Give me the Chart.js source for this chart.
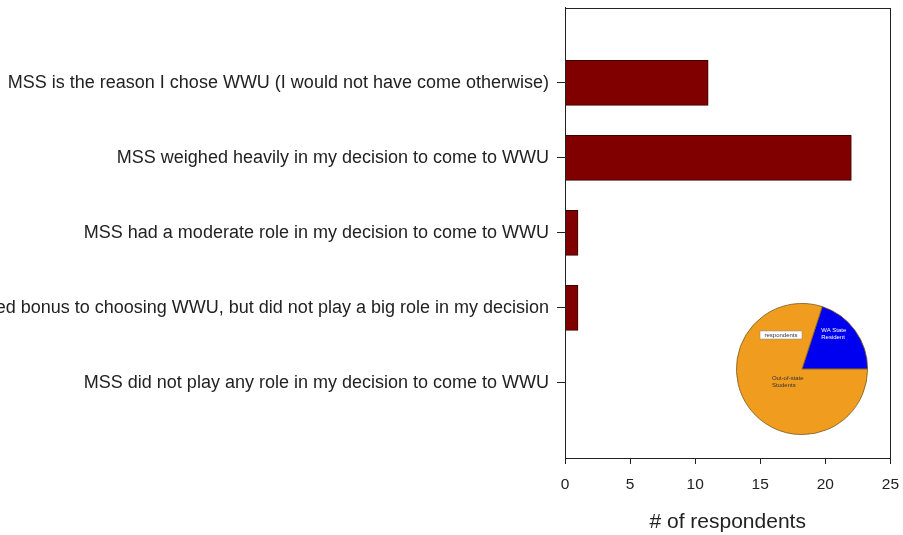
<!DOCTYPE html>
<html lang="en">
<head>
  <meta charset="UTF-8" />
  <title>MSS and the decision to come to WWU</title>
  <script src="https://cdn.jsdelivr.net/npm/chart.js"></script>
  <style>
    body { margin: 0; background: white; overflow: hidden; }
    #wrap { position: relative; width: 903px; height: 535px; overflow: hidden; }
    #barChart { position: absolute; left: 0; top: -11px; }
    #pieChart { position: absolute; left: 736px; top: 303px; }
  </style>
</head>
<body>
  <div id="wrap">
    <canvas id="barChart" width="910" height="546"></canvas>
    <canvas id="pieChart" width="132" height="132"></canvas>
  </div>

  <script>
    // blank first/last labels leave the empty band above and below the bars
    const answers = [
      '',
      'MSS is the reason I chose WWU (I would not have come otherwise)',
      'MSS weighed heavily in my decision to come to WWU',
      'MSS had a moderate role in my decision to come to WWU',
      'MSS was an added bonus to choosing WWU, but did not play a big role in my decision',
      'MSS did not play any role in my decision to come to WWU',
      ''
    ];
    const respondents = [null, 11, 22, 1, 1, 0, null];
    const xTicks = [0, 5, 10, 15, 20, 25];

    const residency = ['WA State Resident', 'Out-of-state Students'];
    const residencyCounts = [7, 28];

    Chart.defaults.font.family = 'Arial, "Liberation Sans", sans-serif';
    Chart.defaults.color = '#222';

    const boxPlugin = {
      id: 'box',
      afterDraw(chart) {
        const a = chart.chartArea;
        const c = chart.ctx;
        c.save();
        c.strokeStyle = '#222';
        c.lineWidth = 1;
        c.strokeRect(Math.round(a.left) + 0.5, Math.round(a.top) + 0.5,
          Math.round(a.right - a.left), Math.round(a.bottom - a.top));
        c.restore();
      }
    };

    new Chart(document.getElementById('barChart'), {
      type: 'bar',
      data: {
        labels: answers,
        datasets: [{
          data: respondents,
          backgroundColor: '#800000',
          borderColor: '#3c0000',
          borderWidth: 1,
          barThickness: 45
        }]
      },
      options: {
        indexAxis: 'y',
        responsive: false,
        animation: false,
        layout: { padding: { top: 0, right: 4, left: 0, bottom: 0 } },
        plugins: { legend: { display: false }, tooltip: { enabled: false } },
        scales: {
          y: {
            offset: false,
            afterFit(scale) { scale.width = 565; },
            grid: {
              offset: false,
              drawOnChartArea: false,
              tickLength: 8,
              color: ctx => (ctx.index === 0 || ctx.index === answers.length - 1) ? 'rgba(0,0,0,0)' : '#222'
            },
            border: { color: '#222' },
            ticks: { font: { size: 18 }, color: '#222', padding: 8, autoSkip: false }
          },
          x: {
            min: 0,
            max: 25,
            afterFit(scale) { scale.height = 77; },
            afterBuildTicks(scale) { scale.ticks = xTicks.map(v => ({ value: v })); },
            grid: { drawOnChartArea: false, tickLength: 6, color: '#222' },
            border: { color: '#222' },
            ticks: { font: { size: 15.5 }, color: '#222', padding: 11 },
            title: {
              display: true,
              text: '# of respondents',
              font: { size: 21 },
              color: '#222',
              padding: { top: 12, bottom: 0 }
            }
          }
        }
      },
      plugins: [boxPlugin]
    });

    // small text inside the inset pie
    const pieLabels = {
      id: 'pieLabels',
      afterDraw(chart) {
        const c = chart.ctx;
        const arcs = chart.getDatasetMeta(0).data;
        c.save();
        c.font = '6px Arial, "Liberation Sans", sans-serif';
        c.textBaseline = 'middle';
        const spots = [
          { frac: 0.72, shift: -0.22, color: 'white' },
          { frac: 0.34, shift: 0, color: '#333' }
        ];
        arcs.forEach((arc, i) => {
          const mid = (arc.startAngle + arc.endAngle) / 2 + spots[i].shift;
          const r = arc.outerRadius * spots[i].frac;
          const x = arc.x + Math.cos(mid) * r;
          const y = arc.y + Math.sin(mid) * r;
          const words = residency[i].split(' ');
          const lines = [words.slice(0, -1).join(' '), words[words.length - 1]];
          c.fillStyle = spots[i].color;
          c.textAlign = 'left';
          c.fillText(lines[0], x - 12, y - 3.5);
          c.fillText(lines[1], x - 12, y + 3.5);
        });
        // boxed series label
        const cx = arcs[0].x, cy = arcs[0].y;
        c.fillStyle = 'white';
        c.fillRect(cx - 42, cy - 38, 42, 8);
        c.strokeStyle = '#888';
        c.lineWidth = 0.5;
        c.strokeRect(cx - 42, cy - 38, 42, 8);
        c.fillStyle = '#333';
        c.textAlign = 'center';
        c.fillText('respondents', cx - 21, cy - 34);
        c.restore();
      }
    };

    new Chart(document.getElementById('pieChart'), {
      type: 'pie',
      data: {
        labels: residency,
        datasets: [{
          data: residencyCounts,
          backgroundColor: ['#0000f0', '#f09c1e'],
          borderColor: '#7a5a20',
          borderWidth: 0.8
        }]
      },
      options: {
        responsive: false,
        animation: false,
        rotation: 18,
        layout: { padding: 0 },
        plugins: { legend: { display: false }, tooltip: { enabled: false } }
      },
      plugins: [pieLabels]
    });
  </script>
</body>
</html>
